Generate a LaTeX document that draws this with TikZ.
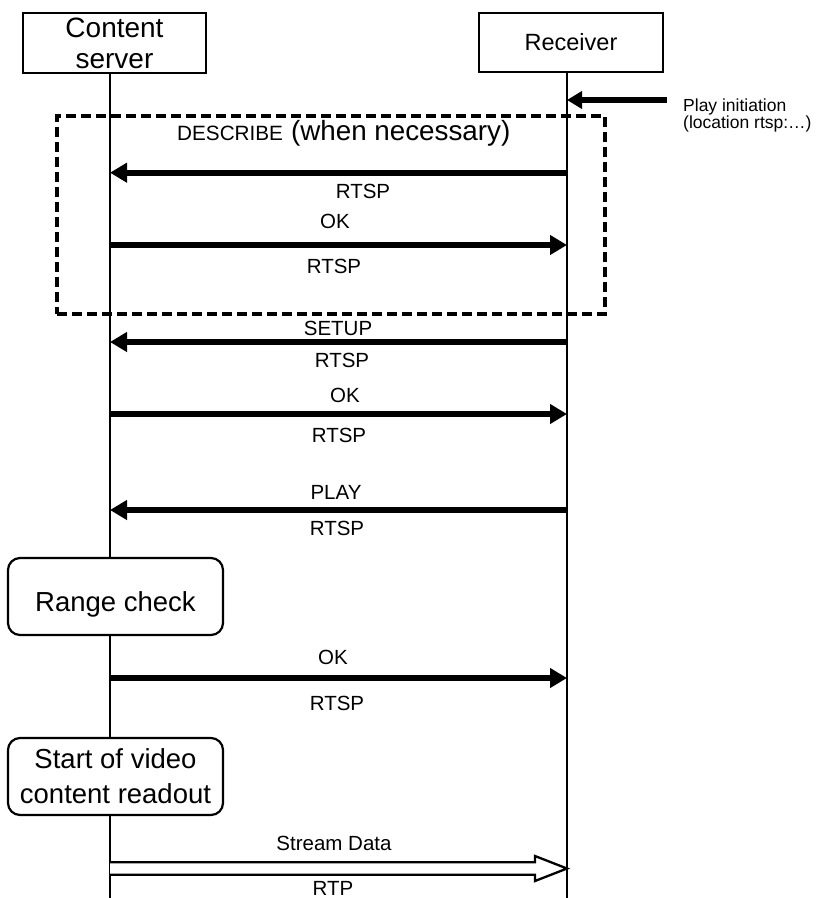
\documentclass[tikz,border=0pt]{standalone}
\usepackage{fontspec}
\setmainfont{Liberation Sans}
\usetikzlibrary{arrows.meta,calc}
\begin{document}
\begin{tikzpicture}[x=1pt,y=-1pt,
  lbl/.style={inner sep=0pt, anchor=base, font=\fontsize{20.5}{24}\selectfont},
  msg/.style={line width=6pt, -{Triangle[length=17pt,width=19pt]}},
  life/.style={line width=2pt},
  entity/.style={draw, line width=2pt, inner sep=0pt, fill=white, align=center},
  procbox/.style={draw, line width=2.2pt, rounded corners=12pt, fill=white, inner sep=0pt,
    minimum width=215pt, minimum height=77pt, align=center, font=\fontsize{27.5}{35}\selectfont},
  groupbox/.style={draw, line width=3.5pt, dash pattern=on 10pt off 5pt, inner sep=0pt},
]
\useasboundingbox (0,0) rectangle (820,898);

% entities
\node[entity, minimum width=183pt, minimum height=60pt, font=\fontsize{28}{31}\selectfont] (cs) at (114.5,43) {Content\\server};
\node[entity, minimum width=184pt, minimum height=59pt, font=\fontsize{23.5}{28}\selectfont] (rc) at (571,42.5) {Receiver};

% lifelines
\coordinate (lbot) at (110,898);
\coordinate (rbot) at (567,898);
\draw[life] (lbot |- cs.south) -- (lbot);
\draw[life] (rbot |- rc.south) -- (rbot);

% play initiation
\coordinate (pstart) at (667,100);
\coordinate (pend) at (567,100);
\draw[line width=6pt, -{Triangle[length=15pt,width=17pt]}] (pstart) -- (pend);
\node[inner sep=0pt, anchor=north west, align=left, font=\fontsize{17.5}{16.8}\selectfont] (pinit) at (683,99) {Play initiation\\(location rtsp:\dots)};

% dashed group
\node[groupbox, minimum width=548pt, minimum height=198pt] (grp) at (331,215) {};
\node[inner sep=0pt, anchor=base west] (desc) at (177,140)
  {{\fontsize{20.7}{24}\selectfont DESCRIBE}\hspace{8pt}{\fontsize{27.8}{32}\selectfont(when necessary)}};

% message coordinates
\foreach \n/\y in {1/172.7, 2/245, 3/342, 4/414, 5/510, 6/678} {
  \coordinate (l\n) at (110,\y);
  \coordinate (r\n) at (567,\y);
}
\draw[msg] (r1) -- (l1);
\draw[msg] (l2) -- (r2);
\draw[msg] (r3) -- (l3);
\draw[msg] (l4) -- (r4);
\draw[msg] (r5) -- (l5);
\draw[msg] (l6) -- (r6);

% labels
\node[lbl] (t1b) at (363,198) {RTSP};
\node[lbl] (t2a) at (335,228) {OK};
\node[lbl] (t2b) at (334,273) {RTSP};
\node[lbl] (t3a) at (338,335) {SETUP};
\node[lbl] (t3b) at (342,367) {RTSP};
\node[lbl] (t4a) at (345,402) {OK};
\node[lbl] (t4b) at (339,442) {RTSP};
\node[lbl] (t5a) at (336,499) {PLAY};
\node[lbl] (t5b) at (337,535) {RTSP};
\node[lbl] (t6a) at (333,664) {OK};
\node[lbl] (t6b) at (337,710) {RTSP};

% process boxes
\node[procbox, text height=29pt, text depth=0pt] (range) at (115.5,596.5) {Range check};
\node[procbox] (start) at (115.5,776.5) {Start of video\\content readout};

% stream data arrow
\coordinate (sl) at (110,868.5);
\coordinate (sr) at (567,868.5);
\draw[line width=2.3pt, line join=miter, fill=white]
  ($(sl)+(0,-6.3)$) -- ($(sr)+(-32,-6.3)$) -- ($(sr)+(-32,-12.5)$) -- (sr)
  -- ($(sr)+(-32,12.5)$) -- ($(sr)+(-32,6.3)$) -- ($(sl)+(0,6.3)$);
\node[lbl] (sd) at (334,850) {Stream Data};
\node[lbl] (rtp) at (333,895) {RTP};
\end{tikzpicture}
\end{document}
